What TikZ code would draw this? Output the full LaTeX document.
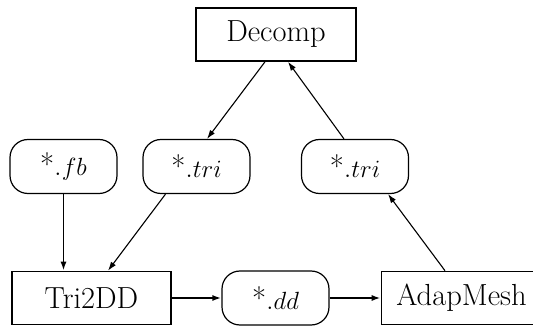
\documentclass[tikz,border=0pt]{standalone}
\usetikzlibrary{arrows.meta}
\begin{document}
\begin{tikzpicture}[x=1pt,y=1pt,
  every node/.style={font=\fontsize{30.5}{34}\selectfont, inner sep=0pt},
  procbox/.style={draw, line width=1.6pt, minimum height=53pt},
  filebox/.style={draw, line width=1.2pt, rounded corners=18pt, minimum width=107pt, minimum height=54pt},
  conn/.style={line width=1.1pt, -{Latex[length=9pt,width=6pt]}},
  sconn/.style={line width=1.8pt, -{Latex[length=9pt,width=6pt]}}]
\clip (0,0) rectangle (533,332);
\useasboundingbox (0,0) rectangle (533,332);
\node[procbox, minimum width=160pt] (decomp) at (276,297.5) {Decomp};
\node[filebox] (fb) at (63.5,165.5) {*.$fb$};
\node[filebox] (tril) at (196.5,165.5) {*.$tri$};
\node[filebox] (trir) at (355,165.5) {*.$tri$};
\node[procbox, minimum width=159pt] (tri2dd) at (91.5,34) {Tri2DD};
\node[filebox] (dd) at (275.5,34) {*.$dd$};
\node[procbox, minimum width=160pt] (adap) at (461.5,34) {AdapMesh};
\draw[conn] ([xshift=-11pt]decomp.south) -- ([xshift=10.5pt]tril.north);
\draw[conn] ([xshift=-11pt]trir.north) -- ([xshift=12pt]decomp.south);
\draw[sconn] (fb.south) -- (fb.south |- tri2dd.north);
\draw[conn] ([xshift=-31pt]tril.south) -- ([xshift=16.5pt]tri2dd.north);
\draw[sconn] (tri2dd.east) -- (dd.west);
\draw[sconn] (dd.east) -- (adap.west);
\draw[conn] ([xshift=-16.5pt]adap.north) -- ([xshift=33pt]trir.south);
\end{tikzpicture}
\end{document}
